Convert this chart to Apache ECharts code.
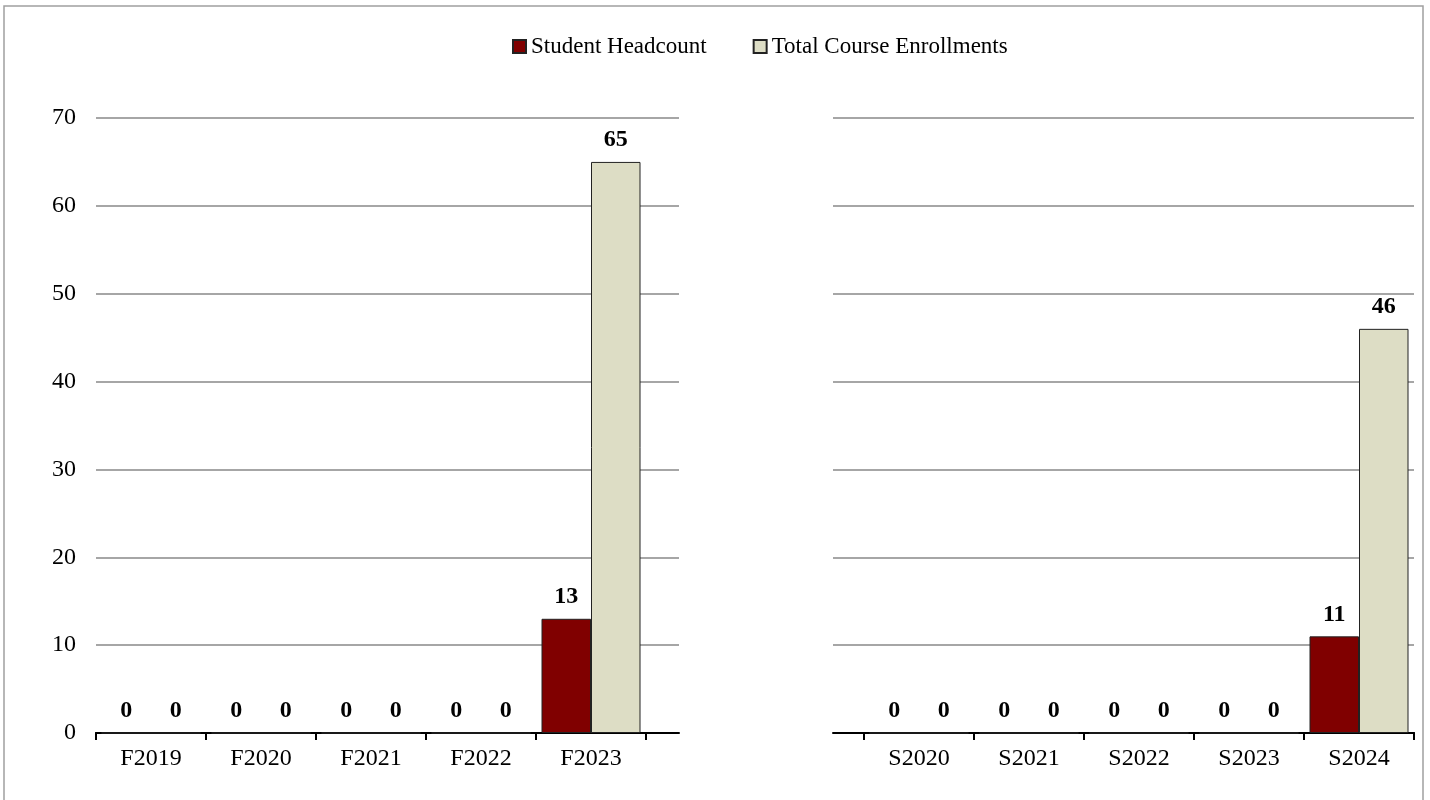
<!DOCTYPE html>
<html>
<head>
<meta charset="utf-8">
<script src="https://cdn.jsdelivr.net/npm/echarts@6/dist/echarts.min.js"></script>
<style>html,body{margin:0;padding:0;background:#fff;}#c{width:1430px;height:800px;}</style>
</head>
<body>
<div id="c"></div>
<script>
const fallTerms = ['F2019', 'F2020', 'F2021', 'F2022', 'F2023'];
const springTerms = ['S2020', 'S2021', 'S2022', 'S2023', 'S2024'];
const fallHeadcount = [0, 0, 0, 0, 13];
const fallEnrollments = [0, 0, 0, 0, 65];
const springHeadcount = [0, 0, 0, 0, 11];
const springEnrollments = [0, 0, 0, 0, 46];
const seriesNames = ['Student Headcount', 'Total Course Enrollments'];
const yTicks = { min: 0, max: 70, interval: 10 };

const FONT = '"Liberation Serif", "Times New Roman", serif';
const RED = '#800000';
const BEIGE = '#DDDDC5';
const TOP = 118, HEIGHT = 615;

const chart = echarts.init(document.getElementById('c'), null, { renderer: 'canvas' });

const label = {
  show: true, position: 'top', distance: 10,
  fontFamily: FONT, fontSize: 24, fontWeight: 'bold', color: '#000'
};

function bgX(idx) {
  return { type: 'value', gridIndex: idx, min: 0, max: 1, show: true,
    axisLine: { show: true, lineStyle: { color: '#000', width: 2 } },
    axisTick: { show: false }, axisLabel: { show: false }, splitLine: { show: false } };
}
function bgY(idx, showLabels) {
  return { type: 'value', gridIndex: idx, min: yTicks.min, max: yTicks.max, interval: yTicks.interval,
    axisLine: { show: false }, axisTick: { show: false },
    axisLabel: { show: showLabels, margin: 20, fontFamily: FONT, fontSize: 24, color: '#000' },
    splitLine: { show: true, lineStyle: { color: '#A6A6A6', width: 2 } } };
}
function catX(idx, data) {
  return { type: 'category', gridIndex: idx, data: data,
    axisLine: { show: true, lineStyle: { color: '#000', width: 2 } },
    axisTick: { show: true, length: 7, lineStyle: { color: '#000', width: 2 } },
    axisLabel: { margin: 14, fontFamily: FONT, fontSize: 24, color: '#000' },
    splitLine: { show: false } };
}
function catY(idx) {
  return { type: 'value', gridIndex: idx, min: yTicks.min, max: yTicks.max, interval: yTicks.interval, show: false,
    splitLine: { show: false } };
}
function bar(name, data, idx, color) {
  return { name: name, type: 'bar', xAxisIndex: idx, yAxisIndex: idx, data: data,
    barGap: '0%', barCategoryGap: '10%',
    itemStyle: { color: color, borderColor: '#222', borderWidth: 1 },
    label: label, emphasis: { disabled: true } };
}

chart.setOption({
  animation: false,
  backgroundColor: '#fff',
  legend: {
    top: 30, left: 507, itemWidth: 13, itemHeight: 13, itemGap: 46,
    textStyle: { fontFamily: FONT, fontSize: 23, color: '#000' },
    data: seriesNames.map(n => ({ name: n, icon: 'rect' }))
  },
  graphic: [{
    type: 'rect', shape: { x: 4, y: 6, width: 1419, height: 820 },
    style: { fill: 'none', stroke: '#A0A0A0', lineWidth: 1.5 }, silent: true, z: -1
  }],
  grid: [
    { left: 96, top: TOP, width: 583, height: HEIGHT },
    { left: 96, top: TOP, width: 550, height: HEIGHT },
    { left: 833, top: TOP, width: 581, height: HEIGHT },
    { left: 864, top: TOP, width: 550, height: HEIGHT }
  ],
  xAxis: [bgX(0), catX(1, fallTerms), bgX(2), catX(3, springTerms)],
  yAxis: [bgY(0, true), catY(1), bgY(2, false), catY(3)],
  series: [
    bar(seriesNames[0], fallHeadcount, 1, RED),
    bar(seriesNames[1], fallEnrollments, 1, BEIGE),
    bar(seriesNames[0], springHeadcount, 3, RED),
    bar(seriesNames[1], springEnrollments, 3, BEIGE)
  ]
});
</script>
</body>
</html>
